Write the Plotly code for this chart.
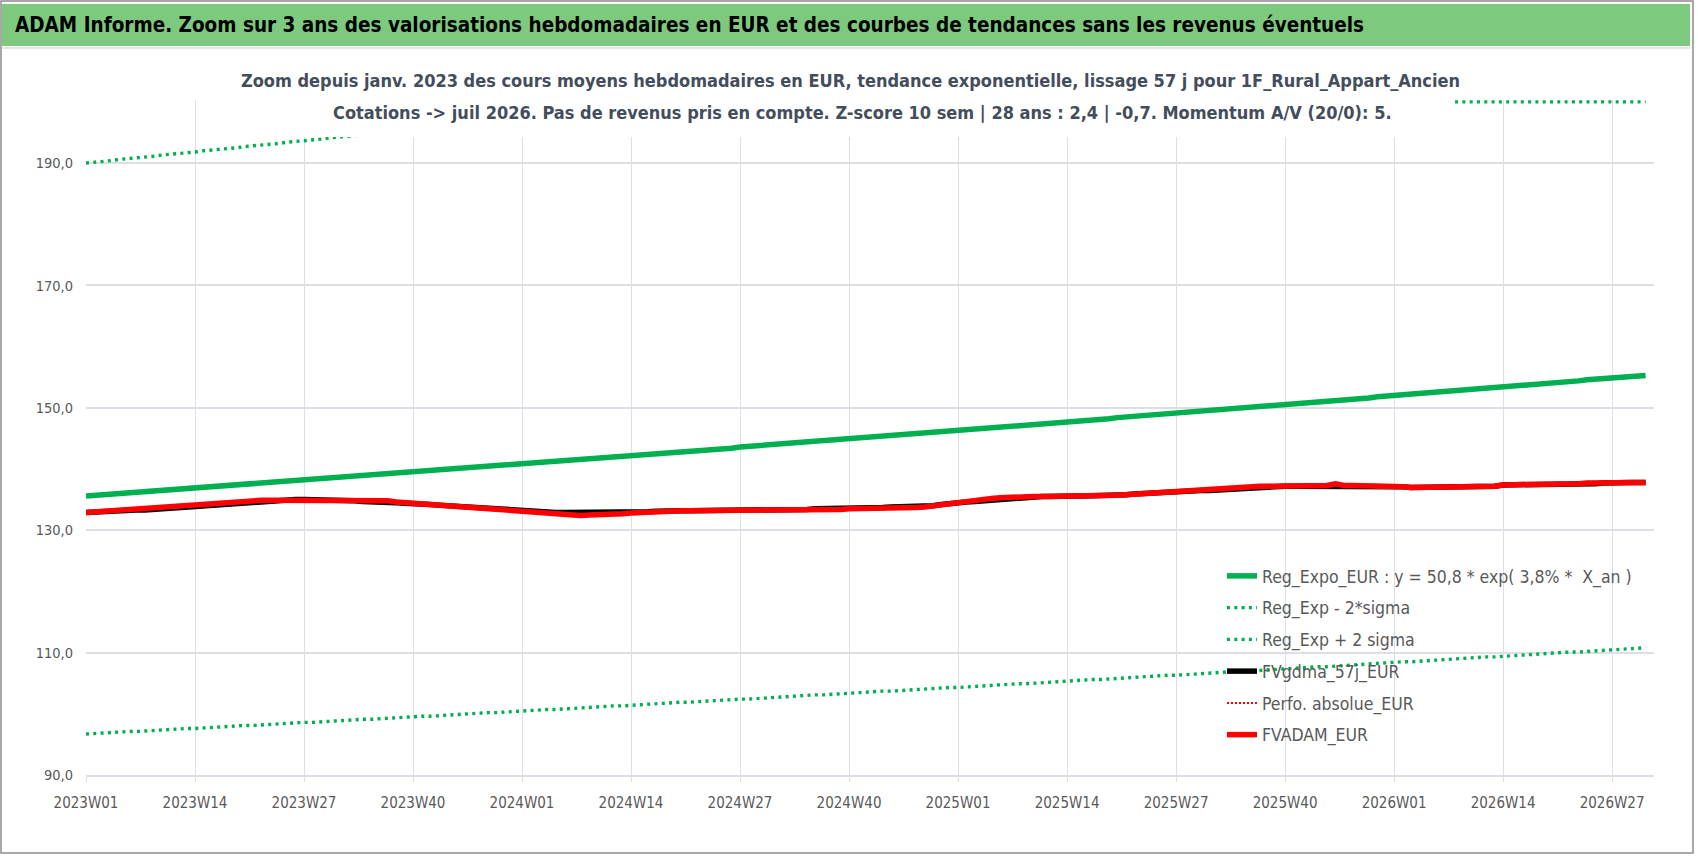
import numpy as np
import plotly.graph_objects as go

# canvas and plot-area geometry (px)
W, H = 1698, 856
ML, MR, MT, MB = 86, 44, 100, 81
Y_MIN, Y_MAX = 90, 200

FONT = "Liberation Sans Narrow, DejaVu Sans Condensed, sans-serif"
GRID = "#DCDFE5"
TXT = "#595959"

# ---- data -------------------------------------------------------------
weeks = [f"{y}W{w:02d}" for y in (2023, 2024, 2025, 2026) for w in range(1, 53)][:187]
tick_weeks = weeks[::13]
y_ticks = [90, 110, 130, 150, 170, 190]

reg_expo = [
    135.6, 135.7, 135.8, 135.9, 136.0, 136.1, 136.2, 136.3, 136.4, 136.5, 136.6, 136.7, 136.8,
    136.9, 137.0, 137.1, 137.2, 137.3, 137.4, 137.5, 137.6, 137.7, 137.8, 137.9, 138.0, 138.1,
    138.2, 138.3, 138.4, 138.5, 138.6, 138.7, 138.8, 138.9, 139.0, 139.1, 139.2, 139.3, 139.4,
    139.5, 139.6, 139.7, 139.8, 139.9, 140.0, 140.1, 140.2, 140.3, 140.4, 140.5, 140.6, 140.7,
    140.9, 141.0, 141.1, 141.2, 141.3, 141.4, 141.5, 141.6, 141.7, 141.8, 141.9, 142.0, 142.1,
    142.2, 142.3, 142.4, 142.5, 142.6, 142.7, 142.8, 142.9, 143.0, 143.1, 143.2, 143.3, 143.4,
    143.6, 143.7, 143.8, 143.9, 144.0, 144.1, 144.2, 144.3, 144.4, 144.5, 144.6, 144.7, 144.8,
    144.9, 145.0, 145.1, 145.2, 145.3, 145.5, 145.6, 145.7, 145.8, 145.9, 146.0, 146.1, 146.2,
    146.3, 146.4, 146.5, 146.6, 146.7, 146.8, 147.0, 147.1, 147.2, 147.3, 147.4, 147.5, 147.6,
    147.7, 147.8, 147.9, 148.0, 148.1, 148.2, 148.4, 148.5, 148.6, 148.7, 148.8, 148.9, 149.0,
    149.1, 149.2, 149.3, 149.4, 149.6, 149.7, 149.8, 149.9, 150.0, 150.1, 150.2, 150.3, 150.4,
    150.5, 150.6, 150.8, 150.9, 151.0, 151.1, 151.2, 151.3, 151.4, 151.5, 151.6, 151.8, 151.9,
    152.0, 152.1, 152.2, 152.3, 152.4, 152.5, 152.6, 152.8, 152.9, 153.0, 153.1, 153.2, 153.3,
    153.4, 153.5, 153.7, 153.8, 153.9, 154.0, 154.1, 154.2, 154.3, 154.4, 154.6, 154.7, 154.8,
    154.9, 155.0, 155.1, 155.2, 155.3,
]

reg_minus = [
    96.7, 96.8, 96.8, 96.9, 97.0, 97.1, 97.1, 97.2, 97.3, 97.3, 97.4, 97.5, 97.6,
    97.6, 97.7, 97.8, 97.8, 97.9, 98.0, 98.1, 98.1, 98.2, 98.3, 98.3, 98.4, 98.5,
    98.6, 98.6, 98.7, 98.8, 98.8, 98.9, 99.0, 99.1, 99.1, 99.2, 99.3, 99.4, 99.4,
    99.5, 99.6, 99.6, 99.7, 99.8, 99.9, 99.9, 100.0, 100.1, 100.2, 100.2, 100.3, 100.4,
    100.4, 100.5, 100.6, 100.7, 100.7, 100.8, 100.9, 101.0, 101.0, 101.1, 101.2, 101.3, 101.3,
    101.4, 101.5, 101.6, 101.6, 101.7, 101.8, 101.9, 101.9, 102.0, 102.1, 102.1, 102.2, 102.3,
    102.4, 102.4, 102.5, 102.6, 102.7, 102.7, 102.8, 102.9, 103.0, 103.1, 103.1, 103.2, 103.3,
    103.4, 103.4, 103.5, 103.6, 103.7, 103.7, 103.8, 103.9, 104.0, 104.0, 104.1, 104.2, 104.3,
    104.3, 104.4, 104.5, 104.6, 104.6, 104.7, 104.8, 104.9, 104.9, 105.0, 105.1, 105.2, 105.3,
    105.3, 105.4, 105.5, 105.6, 105.6, 105.7, 105.8, 105.9, 106.0, 106.0, 106.1, 106.2, 106.3,
    106.3, 106.4, 106.5, 106.6, 106.7, 106.7, 106.8, 106.9, 107.0, 107.0, 107.1, 107.2, 107.3,
    107.4, 107.4, 107.5, 107.6, 107.7, 107.7, 107.8, 107.9, 108.0, 108.1, 108.1, 108.2, 108.3,
    108.4, 108.5, 108.5, 108.6, 108.7, 108.8, 108.9, 108.9, 109.0, 109.1, 109.2, 109.3, 109.3,
    109.4, 109.5, 109.6, 109.7, 109.7, 109.8, 109.9, 110.0, 110.1, 110.1, 110.2, 110.3, 110.4,
    110.5, 110.5, 110.6, 110.7, 110.8,
]

reg_plus = [
    190.0, 190.1, 190.3, 190.4, 190.6, 190.7, 190.8, 191.0, 191.1, 191.3, 191.4, 191.5, 191.7,
    191.8, 192.0, 192.1, 192.2, 192.4, 192.5, 192.7, 192.8, 192.9, 193.1, 193.2, 193.4, 193.5,
    193.6, 193.8, 193.9, 194.1, 194.2, 194.4, 194.5, 194.6, 194.8, 194.9, 195.1, 195.2, 195.4,
    195.5, 195.6, 195.8, 195.9, 196.1, 196.2, 196.4, 196.5, 196.6, 196.8, 196.9, 197.1, 197.2,
    197.4, 197.5, 197.6, 197.8, 197.9, 198.1, 198.2, 198.4, 198.5, 198.7, 198.8, 199.0, 199.1,
    199.2, 199.4, 199.5, 199.7, 199.8, 200.0, 200.1, 200.3, 200.4, 200.6, 200.7, 200.9, 201.0,
    201.1, 201.3, 201.4, 201.6, 201.7, 201.9, 202.0, 202.2, 202.3, 202.5, 202.6, 202.8, 202.9,
    203.1, 203.2, 203.4, 203.5, 203.7, 203.8, 204.0, 204.1, 204.3, 204.4, 204.6, 204.7, 204.9,
    205.0, 205.2, 205.3, 205.5, 205.6, 205.8, 205.9, 206.1, 206.2, 206.4, 206.5, 206.7, 206.8,
    207.0, 207.1, 207.3, 207.4, 207.6, 207.7, 207.9, 208.0, 208.2, 208.3, 208.5, 208.6, 208.8,
    208.9, 209.1, 209.2, 209.4, 209.5, 209.7, 209.9, 210.0, 210.2, 210.3, 210.5, 210.6, 210.8,
    210.9, 211.1, 211.2, 211.4, 211.5, 211.7, 211.9, 212.0, 212.2, 212.3, 212.5, 212.6, 212.8,
    212.9, 213.1, 213.3, 213.4, 213.6, 213.7, 213.9, 214.0, 214.2, 214.4, 214.5, 214.7, 214.8,
    215.0, 215.1, 215.3, 215.5, 215.6, 215.8, 215.9, 216.1, 216.2, 216.4, 216.6, 216.7, 216.9,
    217.0, 217.2, 217.3, 217.5, 217.7,
]

fvgdma = [
    132.9, 133.0, 133.1, 133.1, 133.1, 133.2, 133.3, 133.3, 133.4, 133.5,
    133.6, 133.7, 133.8, 134.0, 134.1, 134.2, 134.3, 134.4, 134.5, 134.6,
    134.7, 134.8, 134.9, 134.9, 134.9, 135.0, 135.0, 135.0, 135.0, 135.0,
    135.0, 134.9, 134.8, 134.7, 134.7, 134.6, 134.6, 134.5, 134.4, 134.4,
    134.3, 134.2, 134.1, 134.0, 133.9, 133.8, 133.7, 133.6, 133.5, 133.4,
    133.3, 133.2, 133.1, 133.0, 133.0, 132.9, 132.9, 132.9, 132.9, 132.9,
    132.8, 132.8, 132.8, 132.8, 132.8, 132.8, 132.9, 133.0, 133.1, 133.2,
    133.2, 133.2, 133.2, 133.2, 133.2, 133.2, 133.2, 133.2, 133.2, 133.3,
    133.3, 133.3, 133.3, 133.3, 133.3, 133.4, 133.4, 133.5, 133.5, 133.5,
    133.5, 133.5, 133.6, 133.6, 133.6, 133.7, 133.8, 133.8, 133.8, 133.8,
    133.9, 134.0, 134.2, 134.4, 134.5, 134.6, 134.7, 134.8, 135.0, 135.1,
    135.3, 135.4, 135.5, 135.5, 135.5, 135.5, 135.6, 135.6, 135.6, 135.6,
    135.6, 135.6, 135.7, 135.7, 135.8, 135.9, 136.0, 136.1, 136.2, 136.2,
    136.3, 136.3, 136.4, 136.5, 136.5, 136.6, 136.7, 136.8, 136.9, 137.0,
    137.1, 137.1, 137.1, 137.2, 137.2, 137.2, 137.3, 137.3, 137.3, 137.3,
    137.3, 137.3, 137.3, 137.3, 137.3, 137.3, 137.3, 137.1, 137.0, 137.0,
    137.0, 137.0, 137.0, 137.0, 137.0, 137.0, 137.0, 137.1, 137.2, 137.4,
    137.4, 137.4, 137.4, 137.4, 137.4, 137.4, 137.5, 137.5, 137.5, 137.6,
    137.6, 137.7, 137.8, 137.8, 137.8, 137.8, 137.8,
]

fvadam = [
    132.9, 133.0, 133.1, 133.2, 133.2, 133.3, 133.4, 133.5, 133.6, 133.7,
    133.8, 133.9, 134.0, 134.1, 134.2, 134.3, 134.4, 134.5, 134.6, 134.7,
    134.8, 134.9, 134.9, 134.9, 134.9, 135.0, 135.0, 135.0, 135.0, 135.0,
    135.0, 135.0, 135.0, 135.0, 135.0, 134.9, 134.8, 134.6, 134.5, 134.4,
    134.3, 134.2, 134.1, 134.0, 133.9, 133.8, 133.7, 133.6, 133.5, 133.4,
    133.3, 133.2, 133.1, 132.9, 132.8, 132.6, 132.5, 132.4, 132.3, 132.4,
    132.5, 132.5, 132.6, 132.7, 132.7, 132.8, 132.9, 133.0, 133.1, 133.2,
    133.2, 133.2, 133.2, 133.2, 133.2, 133.2, 133.2, 133.2, 133.2, 133.3,
    133.3, 133.3, 133.3, 133.3, 133.3, 133.3, 133.4, 133.4, 133.4, 133.4,
    133.4, 133.5, 133.5, 133.5, 133.5, 133.6, 133.6, 133.6, 133.6, 133.7,
    133.8, 134.0, 134.2, 134.4, 134.6, 134.8, 134.9, 135.1, 135.2, 135.3,
    135.4, 135.5, 135.5, 135.5, 135.5, 135.5, 135.6, 135.6, 135.6, 135.6,
    135.6, 135.6, 135.7, 135.7, 135.8, 135.9, 136.0, 136.1, 136.2, 136.2,
    136.3, 136.4, 136.5, 136.6, 136.7, 136.8, 136.9, 137.0, 137.1, 137.1,
    137.2, 137.2, 137.2, 137.3, 137.3, 137.3, 137.3, 137.3, 137.3, 137.6,
    137.3, 137.3, 137.3, 137.3, 137.3, 137.3, 137.3, 137.1, 137.0, 137.0,
    137.0, 137.0, 137.0, 137.0, 137.0, 137.0, 137.0, 137.1, 137.2, 137.4,
    137.4, 137.4, 137.5, 137.5, 137.5, 137.5, 137.6, 137.6, 137.6, 137.7,
    137.7, 137.7, 137.8, 137.8, 137.8, 137.8, 137.8,
]
# no revenues taken into account -> absolute performance equals FVADAM
perfo_abs = list(fvadam)


# ---- helpers: pixel -> paper coordinates ------------------------------
def px_x(p):
    return (p - ML) / (W - ML - MR)


def px_y(p):
    return (H - MB - p) / (H - MT - MB)


# ---- figure -----------------------------------------------------------
fig = go.Figure()

fig.add_trace(go.Scatter(
    x=weeks, y=reg_expo, mode="lines", legendgroup="a",
    name="Reg_Expo_EUR : y = 50,8 * exp( 3,8% *  X_an )",
    line=dict(color="#00B050", width=5.5),
))
fig.add_trace(go.Scatter(
    x=weeks, y=reg_minus, mode="lines", legendgroup="b",
    name="Reg_Exp - 2*sigma",
    line=dict(color="#00B050", width=3.4, dash="3px,4.3px"),
))
# Excel draws values above the axis maximum along the top edge
fig.add_trace(go.Scatter(
    x=weeks, y=np.minimum(reg_plus, Y_MAX), mode="lines", legendgroup="c",
    name="Reg_Exp + 2 sigma",
    line=dict(color="#00B050", width=3.4, dash="3px,4.3px"),
))
fig.add_trace(go.Scatter(
    x=weeks, y=fvgdma, mode="lines", legendgroup="d",
    name="FVgdma_57j_EUR",
    line=dict(color="#000000", width=5.5),
))
fig.add_trace(go.Scatter(
    x=weeks, y=perfo_abs, mode="lines", legendgroup="e",
    name="Perfo. absolue_EUR",
    line=dict(color="#FF0000", width=2, dash="2px,2px"),
))
fig.add_trace(go.Scatter(
    x=weeks, y=fvadam, mode="lines", legendgroup="f",
    name="FVADAM_EUR",
    line=dict(color="#FF0000", width=5.5),
))

fig.update_layout(
    width=W, height=H,
    margin=dict(l=ML, r=MR, t=MT, b=MB, pad=0),
    paper_bgcolor="white", plot_bgcolor="white",
    separators=", ",
    font=dict(family=FONT, color=TXT),
    showlegend=True,
    legend=dict(
        x=px_x(1222), y=px_y(558), xanchor="left", yanchor="top",
        bgcolor="rgba(0,0,0,0)", traceorder="grouped", tracegroupgap=6,
        font=dict(family=FONT, size=17.5, color=TXT),
    ),
    xaxis=dict(
        type="category", range=[0, 187],
        tickmode="array", tickvals=tick_weeks, ticktext=tick_weeks,
        showgrid=True, gridcolor=GRID, gridwidth=1,
        showline=True, linecolor=GRID, linewidth=1.5,
        ticks="outside", ticklen=5, tickcolor=GRID,
        ticklabelstandoff=8,
        tickfont=dict(family=FONT, size=15, color=TXT),
    ),
    yaxis=dict(
        range=[Y_MIN, Y_MAX + 0.3],
        tickmode="array", tickvals=y_ticks, tickformat=".1f",
        showgrid=True, gridcolor=GRID, gridwidth=1.5,
        zeroline=False, showline=False, ticks="",
        ticklabelstandoff=12,
        tickfont=dict(family=FONT, size=14.5, color=TXT),
    ),
    shapes=[
        # outer frame
        dict(type="rect", xref="paper", yref="paper", layer="below",
             x0=px_x(1), x1=px_x(1693), y0=px_y(853), y1=px_y(1),
             line=dict(color="#8C8C8C", width=1.5), fillcolor="white"),
        # green title band
        dict(type="rect", xref="paper", yref="paper", layer="below",
             x0=px_x(2), x1=px_x(1690), y0=px_y(46), y1=px_y(4),
             line=dict(width=0), fillcolor="#7DC97E"),
        dict(type="line", xref="paper", yref="paper", layer="below",
             x0=px_x(2), x1=px_x(1690), y0=px_y(48), y1=px_y(48),
             line=dict(color="#E4E6EA", width=2)),
        # white box of the chart title, over the plot
        dict(type="rect", xref="paper", yref="paper", layer="above",
             x0=px_x(249), x1=px_x(1452), y0=px_y(137), y1=px_y(60),
             line=dict(width=0), fillcolor="white"),
    ],
    annotations=[
        dict(text="ADAM Informe. Zoom sur 3 ans des valorisations hebdomadaires en EUR "
                  "et des courbes de tendances sans les revenus éventuels",
             xref="paper", yref="paper", x=px_x(13), y=px_y(25),
             xanchor="left", yanchor="middle", showarrow=False,
             font=dict(family=FONT, size=20.5, color="#000000", weight="bold")),
        dict(text="Zoom depuis janv. 2023 des cours moyens hebdomadaires en EUR, "
                  "tendance exponentielle, lissage 57 j pour 1F_Rural_Appart_Ancien",
             xref="paper", yref="paper", x=px_x(850), y=px_y(81),
             xanchor="center", yanchor="middle", showarrow=False,
             font=dict(family=FONT, size=18, color="#434D5B", weight="bold")),
        dict(text="Cotations -> juil 2026. Pas de revenus pris en compte. "
                  "Z-score 10 sem | 28 ans : 2,4 | -0,7. Momentum A/V (20/0): 5.",
             xref="paper", yref="paper", x=px_x(862), y=px_y(112),
             xanchor="center", yanchor="middle", showarrow=False,
             font=dict(family=FONT, size=18, color="#434D5B", weight="bold")),
    ],
)

fig.write_html("out.html", config={"displayModeBar": False},
               post_script="document.body.style.margin='0';")
